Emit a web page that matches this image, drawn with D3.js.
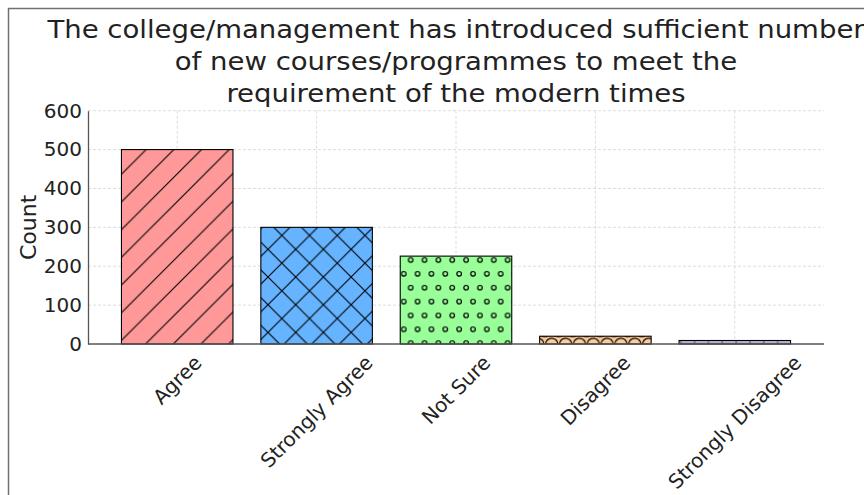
<!DOCTYPE html>
<html>
<head>
<meta charset="utf-8">
<script src="https://cdn.jsdelivr.net/npm/d3@7"></script>
<style>
  body { margin: 0; background: #fff; }
  text { font-family: "DejaVu Sans", sans-serif; fill: #222; }
</style>
</head>
<body>
<div id="plot"></div>
<script>
const width = 864;
const height = 495;

// ----- DATA ------------------------//
const categories = ["Agree", "Strongly Agree", "Not Sure", "Disagree", "Strongly Disagree"];
const counts = [500, 300, 226, 20, 9];
const yTicks = [0, 100, 200, 300, 400, 500, 600];
const titleLines = [
    "The college/management has introduced sufficient number",
    "of new courses/programmes to meet the",
    "requirement of the modern times"
];

// styles
const colors = ["#ff9999", "#66b3ff", "#99ff99", "#ffcc99", "#c2c2f0"];
const hatches = ["slash", "cross", "dots", "rings", "plus"];

const plot = { left: 88, right: 824, top: 110.7, bottom: 344 };

const svg = d3.select("#plot").append("svg")
    .attr("width", width)
    .attr("height", height);

// figure border (cropped)
svg.append("rect")
    .attr("x", 8.5).attr("y", 8.5)
    .attr("width", width + 20).attr("height", height + 20)
    .attr("fill", "none")
    .attr("stroke", "#707070")
    .attr("stroke-width", 1.5);

// ----- HATCH PATTERNS ------------------------//
const defs = svg.append("defs");
const S = 27.7, s = S / 2;

function pattern(id, w, h) {
    return defs.append("pattern")
        .attr("id", id)
        .attr("patternUnits", "userSpaceOnUse")
        .attr("width", w).attr("height", h);
}
function circles(p, pts, w, h, r) {
    pts.forEach(([cx, cy]) => {
        for (let i = -1; i <= 1; i++) {
            for (let j = -1; j <= 1; j++) {
                p.append("circle")
                    .attr("cx", cx + i * w).attr("cy", cy + j * h)
                    .attr("r", r)
                    .attr("fill", "none")
                    .attr("stroke", "#000")
                    .attr("stroke-width", 1.2);
            }
        }
    });
}

// '/'
let p = pattern("slash", S, S).attr("patternTransform", "translate(-9,0)");
p.append("path")
    .attr("d", `M${-S},${S} L${S},${-S} M0,${S} L${S},0 M0,${2 * S} L${2 * S},0`)
    .attr("stroke", "#000").attr("stroke-width", 1.1);

// 'x'
p = pattern("cross", S, S).attr("patternTransform", "translate(-9,0)");
p.append("path")
    .attr("d", `M0,${S} L${S},0 M${-S},${S} L${S},${-S} M0,${2 * S} L${2 * S},0 ` +
               `M0,0 L${S},${S} M${-S},0 L${S},${2 * S} M0,${-S} L${2 * S},${S}`)
    .attr("stroke", "#000").attr("stroke-width", 1.1);

// 'o'
p = pattern("dots", s, S);
circles(p, [[9.05 % s, 10.7], [(9.05 + s / 2) % s, 10.7 + s]], s, S, 2.3);

// 'O'
p = pattern("rings", s, S);
circles(p, [[11.55, 344.5 % S], [(11.55 + s / 2) % s, (344.5 + s) % S]], s, S, 6.2);

// '+'
p = pattern("plus", s, s);
p.append("path")
    .attr("d", `M2.05,0 L2.05,${s}`)
    .attr("stroke", "#333").attr("stroke-width", 1);
p.append("path")
    .attr("d", `M0,9.9 L${s},9.9`)
    .attr("stroke", "#888").attr("stroke-width", 0.6);

// ----- SCALES ------------------------//
const xScl = d3.scaleBand()
    .domain(categories)
    .range([plot.left, plot.right])
    .paddingInner(0.2)
    .paddingOuter(0.24);

const yScl = d3.scaleLinear()
    .domain([0, 600])
    .range([plot.bottom, plot.top]);

// grid
const grid = svg.append("g").attr("stroke", "#d4d4d4").attr("stroke-dasharray", "3,2").attr("stroke-width", 0.8);
grid.selectAll("line.h").data(yTicks.slice(1)).enter().append("line")
    .attr("x1", plot.left).attr("x2", plot.right)
    .attr("y1", d => yScl(d)).attr("y2", d => yScl(d));
grid.selectAll("line.v").data(categories).enter().append("line")
    .attr("x1", d => xScl(d) + xScl.bandwidth() / 2)
    .attr("x2", d => xScl(d) + xScl.bandwidth() / 2)
    .attr("y1", plot.top).attr("y2", plot.bottom);

// ----- BARS ------------------------//
const bars = svg.append("g").selectAll("g.bar")
    .data(categories)
    .enter().append("g");

bars.append("rect")
    .attr("x", d => xScl(d))
    .attr("y", (d, i) => yScl(counts[i]))
    .attr("width", xScl.bandwidth())
    .attr("height", (d, i) => yScl(0) - yScl(counts[i]))
    .attr("fill", (d, i) => colors[i]);

bars.append("rect")
    .attr("x", d => xScl(d))
    .attr("y", (d, i) => yScl(counts[i]))
    .attr("width", xScl.bandwidth())
    .attr("height", (d, i) => yScl(0) - yScl(counts[i]))
    .attr("fill", (d, i) => "url(#" + hatches[i] + ")")
    .attr("stroke", "#000")
    .attr("stroke-width", 1.1);

// ----- AXES ------------------------//
const yAxis = d3.axisLeft(yScl).tickValues(yTicks).tickSize(0).tickPadding(6);
const gy = svg.append("g")
    .attr("transform", "translate(" + plot.left + ",0)")
    .call(yAxis);
gy.select(".domain").attr("stroke", "#555").attr("stroke-width", 1.3);
gy.selectAll("text")
    .style("font-family", "DejaVu Sans")
    .style("font-size", "20px")
    .attr("fill", "#222");

svg.append("line")
    .attr("x1", plot.left).attr("x2", plot.right)
    .attr("y1", plot.bottom).attr("y2", plot.bottom)
    .attr("stroke", "#555").attr("stroke-width", 1.3);

// x labels rotated 45deg, bbox centred on tick
const xl = svg.append("g").selectAll("text")
    .data(categories)
    .enter().append("text")
    .style("font-size", "20px")
    .attr("text-anchor", "middle")
    .attr("dominant-baseline", "central")
    .text(d => d);
xl.each(function (d) {
    const L = this.getComputedTextLength();
    const H = 20;
    const half = (L + H) / Math.SQRT2 / 2;
    const cx = xScl(d) + xScl.bandwidth() / 2;
    const cy = plot.bottom + 8 + half;
    d3.select(this)
        .attr("transform", "translate(" + cx + "," + cy + ") rotate(-45)");
});

// y label
svg.append("text")
    .attr("transform", "translate(28," + ((plot.top + plot.bottom) / 2) + ") rotate(-90)")
    .attr("text-anchor", "middle")
    .attr("dominant-baseline", "central")
    .style("font-size", "22px")
    .text("Count");

// title
svg.append("g").selectAll("text")
    .data(titleLines)
    .enter().append("text")
    .attr("transform", (d, i) => "translate(" + ((plot.left + plot.right) / 2) + "," + (37.8 + i * 32) + ") scale(1.08,1)")
    .attr("text-anchor", "middle")
    .style("font-size", "25.5px")
    .text(d => d);
</script>
</body>
</html>
